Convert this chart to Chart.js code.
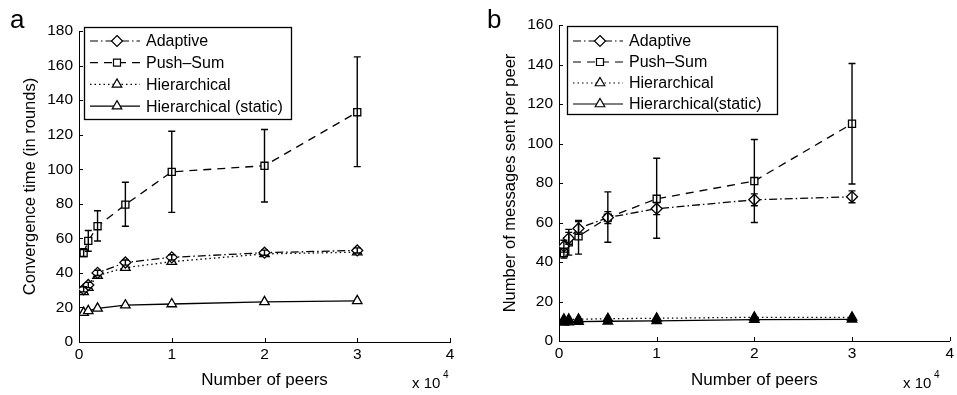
<!DOCTYPE html>
<html>
<head>
<meta charset="utf-8">
<script src="https://cdn.jsdelivr.net/npm/chart.js@4.4.1/dist/chart.umd.min.js"></script>
<style>
body { margin: 0; background: #fff; }
#wrap { position: relative; width: 957px; height: 395px; overflow: hidden; }
canvas { position: absolute; top: 0; }
.panel { position: absolute; top: 6px; font: 26px "Liberation Sans", Arial, sans-serif; line-height: 1; color: #000; }
</style>
</head>
<body>
<div id="wrap">
  <canvas id="chartA" width="478" height="395" style="left:0"></canvas>
  <canvas id="chartB" width="479" height="395" style="left:478px"></canvas>
  <div class="panel" style="left:10px">a</div>
  <div class="panel" style="left:487px">b</div>
</div>
<script>
// x values (number of peers) and tick labels (shown as x 10^4)
var peers = [500, 1000, 2000, 5000, 10000, 20000, 30000];
var xTickLabels = ['0', '1', '2', '3', '4'];

// panel a: convergence time (in rounds)
var convAdaptive = [30.5, 33, 40, 46, 49, 51.7, 53];
var convAdaptiveLo = [29, 31.5, 38.5, 44.5, 47.5, 50.2, 51.5];
var convAdaptiveHi = [32, 34.5, 41.5, 47.5, 50.5, 53.2, 54.5];
var convPushSum = [51.5, 58.5, 67, 79.5, 98.5, 102, 133];
var convPushSumLo = [49.5, 52.5, 58.5, 67, 75, 81, 101.5];
var convPushSumHi = [54, 64.5, 76, 92.5, 122, 123, 165];
var convHier = [29, 31.5, 38.5, 43, 46.5, 51, 52];
var convHierStatic = [17, 18, 19.5, 21.3, 22, 23.2, 23.8];

// panel b: messages sent per peer
var msgAdaptive = [48, 52, 57, 62.5, 67, 71.5, 73];
var msgAdaptiveLo = [45, 49, 54, 59.5, 64, 68.5, 70];
var msgAdaptiveHi = [51, 55, 60.5, 65.5, 70, 74.5, 76];
var msgPushSum = [44.5, 50, 53, 62.5, 72, 81, 110];
var msgPushSumLo = [42, 43.5, 44, 50, 52, 60, 79.5];
var msgPushSumHi = [47, 56.5, 61, 75.5, 92.5, 102, 140.5];
var msgHier = [11, 11, 11, 11.3, 11.5, 12, 12];
var msgHierStatic = [9.5, 9.6, 9.8, 10, 10.2, 10.8, 11];

var FONT = '"Liberation Sans", Arial, sans-serif';
Chart.defaults.font.family = FONT;
Chart.defaults.color = '#000';

function toPoints(values) {
    var pts = [];
    for (var i = 0; i < peers.length; i++) {
        pts.push({x: peers[i], y: values[i]});
    }
    return pts;
}

// draws one marker shape (used for the legend)
function drawMarker(ctx, style, x, y, r, fill) {
    ctx.beginPath();
    if (style === 'rectRot') {
        ctx.moveTo(x, y - r); ctx.lineTo(x + r, y); ctx.lineTo(x, y + r); ctx.lineTo(x - r, y);
    } else if (style === 'rect') {
        ctx.rect(x - r * 0.7, y - r * 0.7, r * 1.4, r * 1.4);
    } else {
        ctx.moveTo(x, y - r); ctx.lineTo(x + r * 0.87, y + r * 0.5); ctx.lineTo(x - r * 0.87, y + r * 0.5);
    }
    ctx.closePath();
    ctx.fillStyle = fill;
    ctx.fill();
    ctx.stroke();
}

// error bars, from errLo / errHi on the dataset
var errorBarPlugin = {
    id: 'errorBars',
    afterDatasetsDraw: function(chart) {
        var ctx = chart.ctx;
        var yScale = chart.scales.y;
        chart.data.datasets.forEach(function(ds, i) {
            if (!ds.errLo) return;
            var meta = chart.getDatasetMeta(i);
            ctx.save();
            ctx.strokeStyle = '#000';
            ctx.lineWidth = 1.4;
            ctx.setLineDash([]);
            meta.data.forEach(function(pt, j) {
                var yLo = yScale.getPixelForValue(ds.errLo[j]);
                var yHi = yScale.getPixelForValue(ds.errHi[j]);
                ctx.beginPath();
                ctx.moveTo(pt.x, yLo); ctx.lineTo(pt.x, yHi);
                ctx.moveTo(pt.x - 3.5, yLo); ctx.lineTo(pt.x + 3.5, yLo);
                ctx.moveTo(pt.x - 3.5, yHi); ctx.lineTo(pt.x + 3.5, yHi);
                ctx.stroke();
            });
            ctx.restore();
        });
    }
};

// inner tick marks, "x 10^4" and the boxed legend
var decorPlugin = {
    id: 'decor',
    afterDraw: function(chart, args, opts) {
        var ctx = chart.ctx;
        var xs = chart.scales.x, ys = chart.scales.y;
        var area = chart.chartArea;
        ctx.save();
        ctx.strokeStyle = '#000';
        ctx.lineWidth = 1;
        ctx.beginPath();
        xs.ticks.forEach(function(t) {
            var x = Math.round(xs.getPixelForValue(t.value)) + 0.5;
            ctx.moveTo(x, area.bottom); ctx.lineTo(x, area.bottom - 4);
        });
        ys.ticks.forEach(function(t) {
            var y = Math.round(ys.getPixelForValue(t.value)) + 0.5;
            ctx.moveTo(area.left, y); ctx.lineTo(area.left + 4, y);
        });
        ctx.stroke();

        // exponent label under the x axis
        ctx.fillStyle = '#000';
        ctx.textBaseline = 'alphabetic';
        ctx.textAlign = 'left';
        ctx.font = '15px ' + FONT;
        ctx.fillText('x 10', opts.expX, 388);
        ctx.font = '10px ' + FONT;
        ctx.fillText('4', opts.expX + 31, 378);

        // legend box
        var lg = opts.legend;
        ctx.fillStyle = '#fff';
        ctx.fillRect(lg.left, lg.top, lg.width, lg.height);
        ctx.lineWidth = 1.3;
        ctx.strokeRect(lg.left + 0.5, lg.top + 0.5, lg.width, lg.height);
        chart.data.datasets.forEach(function(ds, i) {
            var y = lg.top + lg.firstRow + i * lg.rowStep;
            var x0 = lg.left + 6, x1 = lg.left + 56, xm = lg.left + 33;
            ctx.lineWidth = 1.2;
            ctx.setLineDash(ds.borderDash || []);
            ctx.beginPath();
            ctx.moveTo(x0, y); ctx.lineTo(x1, y);
            ctx.stroke();
            ctx.setLineDash([]);
            drawMarker(ctx, ds.pointStyle, xm, y, ds.pointStyle === 'rect' ? 5 : 5.5, '#fff');
            ctx.fillStyle = '#000';
            ctx.font = '16px ' + FONT;
            ctx.textBaseline = 'middle';
            ctx.fillText(ds.label, lg.left + 62, y + 1);
        });
        ctx.restore();
    }
};

function makeDataset(label, values, style, dash, fill, lo, hi) {
    var ds = {
        label: label,
        data: toPoints(values),
        borderColor: '#000',
        borderWidth: 1.3,
        borderDash: dash,
        pointStyle: style,
        pointRadius: style === 'rect' ? 5 : 5.5,
        pointBorderWidth: 1.3,
        pointBorderColor: '#000',
        pointBackgroundColor: fill,
        tension: 0,
        fill: false
    };
    if (lo) { ds.errLo = lo; ds.errHi = hi; }
    return ds;
}

function makeChart(id, datasets, cfg) {
    return new Chart(document.getElementById(id), {
        type: 'line',
        data: { datasets: datasets },
        plugins: [errorBarPlugin, decorPlugin],
        options: {
            responsive: false,
            animation: false,
            events: [],
            layout: { padding: { left: 0, right: cfg.padRight, top: cfg.padTop, bottom: 0 } },
            plugins: {
                legend: { display: false },
                tooltip: { enabled: false },
                decor: { expX: cfg.expX, legend: cfg.legend }
            },
            scales: {
                x: {
                    type: 'linear',
                    min: 0, max: 40000,
                    afterFit: function(s) { s.height = cfg.xHeight; },
                    ticks: {
                        stepSize: 10000,
                        padding: 3,
                        font: { size: 15.5 },
                        callback: function(v, i) { return xTickLabels[i]; }
                    },
                    grid: { display: false, drawTicks: false },
                    border: { display: true, color: '#000', width: 1 },
                    title: { display: true, text: 'Number of peers', font: { size: 17 }, padding: { top: 5 } }
                },
                y: {
                    min: 0, max: cfg.yMax,
                    afterFit: function(s) { s.width = cfg.yWidth; },
                    ticks: { stepSize: 20, padding: 6, font: { size: 15.5 } },
                    grid: { display: false, drawTicks: false },
                    border: { display: true, color: '#000', width: 1 },
                    title: { display: true, text: cfg.yTitle, font: { size: 16.5 }, padding: { top: cfg.yTitlePad } }
                }
            }
        }
    });
}

makeChart('chartA', [
    makeDataset('Adaptive', convAdaptive, 'rectRot', [8, 3, 1.5, 3], '#fff', convAdaptiveLo, convAdaptiveHi),
    makeDataset('Push\u2013Sum', convPushSum, 'rect', [8, 6], '#fff', convPushSumLo, convPushSumHi),
    makeDataset('Hierarchical', convHier, 'triangle', [1.5, 3], '#fff'),
    makeDataset('Hierarchical (static)', convHierStatic, 'triangle', [], '#fff')
], {
    yMax: 180, yWidth: 79, padTop: 31, padRight: 28, xHeight: 53,
    yTitle: 'Convergence time (in rounds)', yTitlePad: 21, expX: 412,
    legend: { left: 84, top: 27, width: 207, height: 92, firstRow: 14, rowStep: 21.7 }
});

makeChart('chartB', [
    makeDataset('Adaptive', msgAdaptive, 'rectRot', [8, 3, 1.5, 3], '#fff', msgAdaptiveLo, msgAdaptiveHi),
    makeDataset('Push\u2013Sum', msgPushSum, 'rect', [8, 6], '#fff', msgPushSumLo, msgPushSumHi),
    makeDataset('Hierarchical', msgHier, 'triangle', [1.5, 3], '#000'),
    makeDataset('Hierarchical(static)', msgHierStatic, 'triangle', [], '#000')
], {
    yMax: 160, yWidth: 81, padTop: 25, padRight: 4, xHeight: 54,
    yTitle: 'Number of messages sent per peer', yTitlePad: 23, expX: 425,
    legend: { left: 89, top: 26, width: 210, height: 88, firstRow: 15, rowStep: 21 }
});
</script>
</body>
</html>
